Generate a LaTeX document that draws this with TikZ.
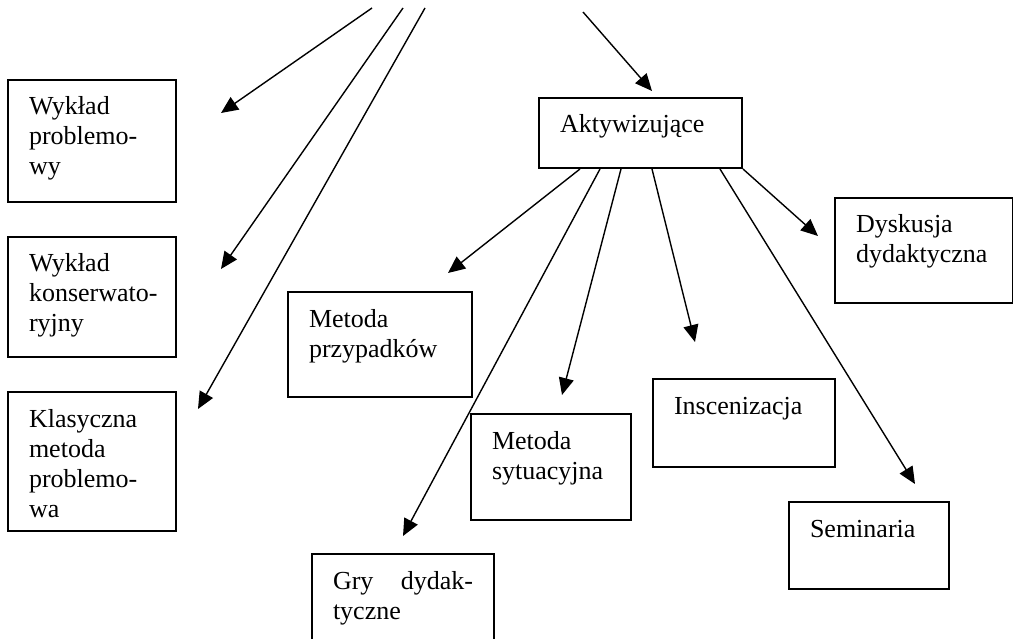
\documentclass[tikz,border=0pt]{standalone}
\usepackage{fontspec}
\setmainfont{Liberation Serif}
\usetikzlibrary{arrows.meta, calc}
\hyphenpenalty=10000
\exhyphenpenalty=10000

\begin{document}
\begin{tikzpicture}[x=1pt, y=-1pt,
    box/.style={draw, line width=2pt, anchor=north west, align=left,
        inner xsep=21pt, inner ysep=0pt, text height=35pt,
        font=\fontsize{26}{30}\selectfont},
    arr/.style={-{Triangle[length=17pt, width=15pt]}, line width=1.4pt}]
    \useasboundingbox (0,0) rectangle (1013,639);

    % left column
    \node[box, text width=126pt, text depth=87pt] (wprob) at (7,79) {Wykład\\problemo-\\wy};
    \node[box, text width=126pt, text depth=85pt] (wkons) at (7,236) {Wykład\\konserwato-\\ryjny};
    \node[box, text width=126pt, text depth=104pt] (klas) at (7,391) {Klasyczna\\metoda\\problemo-\\wa};

    % right part
    \node[box, text width=161pt, text depth=35pt] (akt) at (538,97) {Aktywizujące};
    \node[box, text width=142pt, text depth=70pt] (przyp) at (287,291) {Metoda\\przypadków};
    \node[box, text width=118pt, text depth=71pt] (sytu) at (470,413) {Metoda\\sytuacyjna};
    \node[box, text width=140pt, text depth=75pt] (gry) at (311,553) {Gry\hfill dydak-\\tyczne};
    \node[box, text width=140pt, text depth=53pt] (insc) at (652,378) {Inscenizacja};
    \node[box, text width=136pt, text depth=70pt] (dysk) at (834,197) {Dyskusja\\dydaktyczna};
    \node[box, text width=118pt, text depth=52pt] (semi) at (788,501) {Seminaria};

    % arrows from above
    \coordinate (top1) at (372,8);
    \coordinate (top2) at (403,8);
    \coordinate (top3) at (425,8);
    \coordinate (top4) at (583,12);
    \coordinate (tip1) at (221,113);
    \coordinate (tip2) at (221,269);
    \coordinate (tip3) at (198,409);
    \coordinate (tip4) at (652,91);
    \draw[arr] (top1) -- (tip1);
    \draw[arr] (top2) -- (tip2);
    \draw[arr] (top3) -- (tip3);
    \draw[arr] (top4) -- (tip4);

    % arrows from Aktywizujace
    \coordinate (tprzyp) at (448,273);
    \coordinate (tgry) at (403,536);
    \coordinate (tsytu) at (562,395);
    \coordinate (tinsc) at (695,342);
    \coordinate (tsemi) at (915,484);
    \coordinate (tdysk) at (818,236);
    \draw[arr] ($(akt.south west)+(42,0)$) -- (tprzyp);
    \draw[arr] ($(akt.south west)+(62,0)$) -- (tgry);
    \draw[arr] ($(akt.south west)+(83,0)$) -- (tsytu);
    \draw[arr] ($(akt.south west)+(114,0)$) -- (tinsc);
    \draw[arr] ($(akt.south west)+(182,0)$) -- (tsemi);
    \draw[arr] (akt.south east) -- (tdysk);
\end{tikzpicture}
\end{document}
